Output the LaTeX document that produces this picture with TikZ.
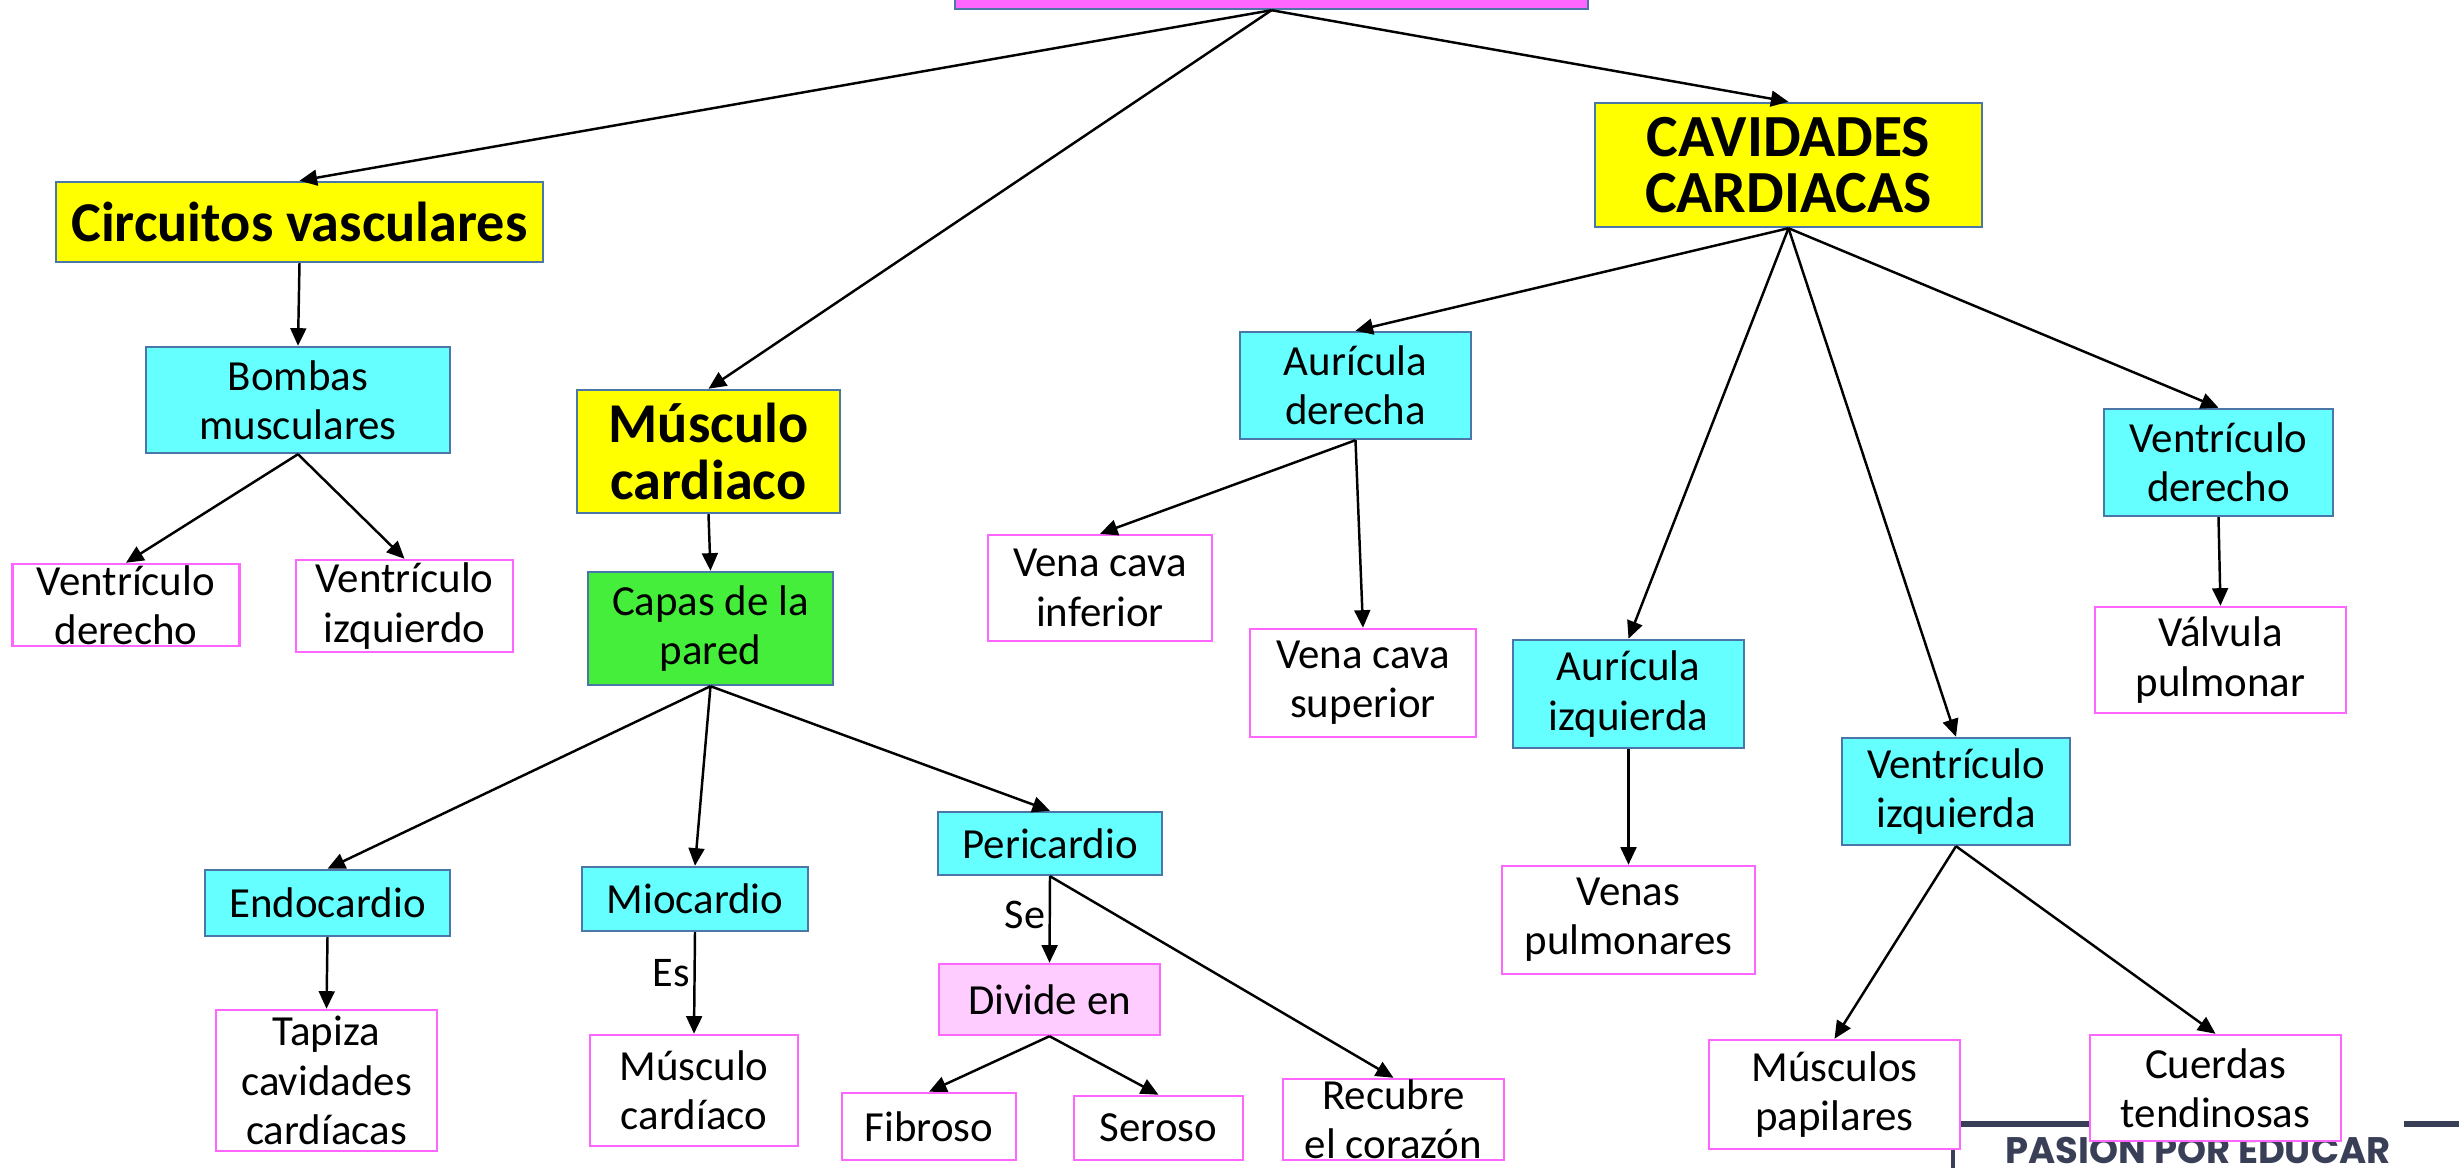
\documentclass[tikz,border=0pt]{standalone}
\usepackage{fontspec}
\setmainfont{Carlito}
\newfontfamily\logofont{Poppins}
\usetikzlibrary{arrows.meta}
\definecolor{topmag}{HTML}{FF66FF}
\definecolor{ylw}{HTML}{FFFF00}
\definecolor{cyn}{HTML}{66FFFF}
\definecolor{grn}{HTML}{44EE3A}
\definecolor{pinkb}{HTML}{FF66FF}
\definecolor{pinkf}{HTML}{FFCCFF}
\definecolor{bluebd}{HTML}{4A76A8}
\definecolor{logoc}{HTML}{3A3F58}
\tikzset{
  basebox/.style={rectangle, draw, line width=0.7pt, inner sep=0pt},
  ybox/.style={basebox, fill=ylw, draw=bluebd},
  cbox/.style={basebox, fill=cyn, draw=bluebd},
  gbox/.style={basebox, fill=grn, draw=bluebd},
  mbox/.style={basebox, fill=topmag, draw=bluebd},
  pbox/.style={basebox, fill=white, draw=pinkb},
  dbox/.style={basebox, fill=pinkf, draw=pinkb},
  txt/.style={align=center, inner sep=0pt, font=\fontsize{12.2}{14}\selectfont},
  ttl/.style={align=center, inner sep=0pt, font=\fontsize{16}{16}\selectfont\bfseries},
  ttlb/.style={align=center, inner sep=0pt, font=\fontsize{17}{16}\selectfont\bfseries},
  arr/.style={line width=0.7pt, -{Triangle[length=5pt,width=4.5pt]}},
  elab/.style={font=\fontsize{12}{14}\selectfont, inner sep=1pt}
}
% \bx{name}{style}{x}{y}{w}{h}{textstyle}{text}
\newcommand\bx[8]{%
  \node[#2, minimum width=#5*0.01cm, minimum height=#6*0.01cm] (#1) at (#3,#4) {};
  \node[#7] (#1t) at (#1) {#8};}
\begin{document}
\begin{tikzpicture}[x=0.01cm, y=-0.01cm]
\useasboundingbox (0,0) rectangle (2459,1168);
% logo lines (behind boxes)
\draw[logoc, line width=1.6pt] (1950,1124) -- (2100,1124);
\draw[logoc, line width=1.6pt] (2404,1124) -- (2470,1124);
\node[anchor=north west, inner sep=0pt, text=logoc, font=\logofont\bfseries\fontsize{10.5}{12}\selectfont] (logo) at (2005,1137) {PASION POR EDUCAR};
\draw[logoc, line width=1.2pt] (1953,1144) -- (1953,1175);

\bx{top}{mbox}{1271.5}{-10.5}{633}{39}{txt}{}
\bx{circ}{ybox}{299.5}{222}{487}{80}{ttl}{Circuitos vasculares}
\bx{bomb}{cbox}{298}{400}{304}{106}{txt}{Bombas\\musculares}
\bx{vda}{pbox}{126}{605}{227}{82}{txt}{Ventrículo\\derecho}
\bx{via}{pbox}{404.5}{606}{217}{92}{txt}{Ventrículo\\izquierdo}
\bx{musc}{ybox}{708.5}{451.5}{263}{123}{ttl}{Músculo\\cardiaco}
\bx{capas}{gbox}{710.5}{628.5}{245}{113}{txt}{Capas de la\\pared}
\bx{endo}{cbox}{327.5}{903}{245}{66}{txt}{Endocardio}
\bx{mio}{cbox}{695}{899}{226}{64}{txt}{Miocardio}
\bx{peri}{cbox}{1050}{843.5}{224}{63}{txt}{Pericardio}
\bx{tap}{pbox}{326.5}{1080.5}{221}{141}{txt}{Tapiza\\cavidades\\cardíacas}
\bx{mcard}{pbox}{694}{1090.5}{208}{111}{txt}{Músculo\\cardíaco}
\bx{div}{dbox}{1049.5}{999.5}{221}{71}{txt}{Divide en}
\bx{fib}{pbox}{929}{1126.5}{174}{67}{txt}{Fibroso}
\bx{ser}{pbox}{1158.5}{1128}{169}{64}{txt}{Seroso}
\bx{rec}{pbox}{1393.5}{1119.5}{221}{81}{txt}{Recubre\\el corazón}
\bx{cav}{ybox}{1788.5}{165}{387}{124}{ttlb}{CAVIDADES\\CARDIACAS}
\bx{ad}{cbox}{1355.5}{385.5}{231}{107}{txt}{Aurícula\\derecha}
\bx{vci}{pbox}{1100}{588}{224}{106}{txt}{Vena cava\\inferior}
\bx{vcs}{pbox}{1363}{683}{226}{108}{txt}{Vena cava\\superior}
\bx{ai}{cbox}{1628.5}{694}{231}{108}{txt}{Aurícula\\izquierda}
\bx{vp}{pbox}{1628.5}{920}{253}{108}{txt}{Venas\\pulmonares}
\bx{viz}{cbox}{1956}{791.5}{228}{107}{txt}{Ventrículo\\izquierda}
\bx{vdb}{cbox}{2218.5}{462.5}{229}{107}{txt}{Ventrículo\\derecho}
\bx{valv}{pbox}{2220.5}{660}{251}{106}{txt}{Válvula\\pulmonar}
\bx{mpap}{pbox}{1834.5}{1094.5}{251}{109}{txt}{Músculos\\papilares}
\bx{cuer}{pbox}{2215.5}{1088}{251}{106}{txt}{Cuerdas\\tendinosas}

% connectors
\draw[arr] (top.south) -- (circ.north);
\draw[arr] (top.south) -- (musc.north);
\draw[arr] (top.south) -- (cav.north);
\draw[arr] (circ.south) -- (bomb.north);
\draw[arr] (bomb.south) -- (vda.north);
\draw[arr] (bomb.south) -- (via.north);
\draw[arr] (musc.south) -- (capas.north);
\draw[arr] (capas.south) -- (endo.north);
\draw[arr] (capas.south) -- (mio.north);
\draw[arr] (capas.south) -- (peri.north);
\draw[arr] (endo.south) -- (tap.north);
\draw[arr] (mio.south) -- node[elab, left, pos=0.4] (es) {Es} (mcard.north);
\draw[arr] (peri.south) -- node[elab, left, pos=0.45] (se) {Se} (div.north);
\draw[arr] (peri.south) -- (rec.north);
\draw[arr] (div.south) -- (fib.north);
\draw[arr] (div.south) -- (ser.north);
\draw[arr] (cav.south) -- (ad.north);
\draw[arr] (cav.south) -- (ai.north);
\draw[arr] (cav.south) -- (viz.north);
\draw[arr] (cav.south) -- (vdb.north);
\draw[arr] (ad.south) -- (vci.north);
\draw[arr] (ad.south) -- (vcs.north);
\draw[arr] (ai.south) -- (vp.north);
\draw[arr] (vdb.south) -- (valv.north);
\draw[arr] (viz.south) -- (mpap.north);
\draw[arr] (viz.south) -- (cuer.north);
\end{tikzpicture}
\end{document}
